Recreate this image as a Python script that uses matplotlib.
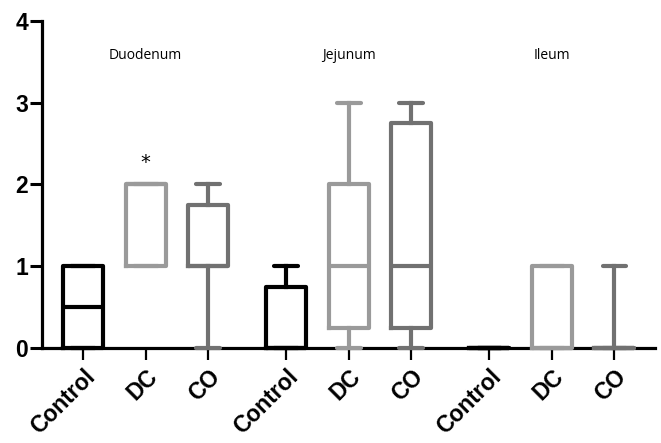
import numpy as np
import matplotlib
matplotlib.use("Agg")
import matplotlib.pyplot as plt

# ------------------------------------------------------
# Data
# ------------------------------------------------------
regions = ["Duodenum", "Jejunum", "Ileum"]
groups = ["Control", "DC", "CO"]

# one entry per box: Duodenum C/DC/CO, Jejunum C/DC/CO, Ileum C/DC/CO
whislo = [0, 1, 0, 0, 0, 0, 0, 0, 0]
q1 = [0, 1, 1, 0, 0.25, 0.25, 0, 0, 0]
med = [0.5, 2, 1, 0, 1, 1, 0, 0, 0]
q3 = [1, 2, 1.75, 0.75, 2, 2.75, 0, 1, 0]
whishi = [1, 2, 2, 1, 3, 3, 0, 1, 1]

star_label = "*"
star_box = 1  # Duodenum DC
star_y = 2.27

group_colors = ["#000000", "#9a9a9a", "#717171"]

# box positions: three per region, with a gap between regions
gap = 1.25
positions = []
for r in range(len(regions)):
    for g in range(len(groups)):
        positions.append(r * (len(groups) - 1 + gap) + g)

stats = []
for i in range(len(positions)):
    stats.append({
        "whislo": whislo[i],
        "q1": q1[i],
        "med": med[i],
        "q3": q3[i],
        "whishi": whishi[i],
        "fliers": [],
    })

# ------------------------------------------------------
# Plot
# ------------------------------------------------------
fig = plt.figure(figsize=(6.61, 4.43), dpi=100)
ax = fig.add_axes([0.0635, 0.2144, 0.9275, 0.7386])

lw = 3.0
bp = ax.bxp(
    stats,
    positions=positions,
    widths=0.64,
    capwidths=0.38,
    showfliers=False,
    manage_ticks=False,
)

for i in range(len(positions)):
    color = group_colors[i % len(groups)]
    artists = [bp["boxes"][i], bp["medians"][i],
               bp["whiskers"][2 * i], bp["whiskers"][2 * i + 1],
               bp["caps"][2 * i], bp["caps"][2 * i + 1]]
    for a in artists:
        a.set_color(color)
        a.set_linewidth(lw)
        a.set_clip_on(False)
        a.set_zorder(4)
    for c in [bp["caps"][2 * i], bp["caps"][2 * i + 1]]:
        c.set_solid_capstyle("round")

# region labels
for r, name in enumerate(regions):
    ax.text(positions[r * len(groups) + 1], 3.58, name,
            ha="center", va="center", fontsize=10, family="Open Sans")

ax.text(positions[star_box], star_y, star_label, ha="center", va="center",
        fontsize=14, family="DejaVu Sans")

ax.set_xlim(-0.66, 9.15)
ax.set_ylim(0, 4)
ax.set_yticks([0, 1, 2, 3, 4])
ax.set_xticks(positions)
ax.set_xticklabels(groups * len(regions), rotation=45, ha="right",
                   rotation_mode="anchor")

for lab in ax.get_xticklabels() + ax.get_yticklabels():
    lab.set_fontfamily("Liberation Sans")
    lab.set_fontweight("bold")
    lab.set_fontsize(16.5)

ax.spines["top"].set_visible(False)
ax.spines["right"].set_visible(False)
ax.spines["left"].set_linewidth(2.3)
ax.spines["bottom"].set_linewidth(2.3)
ax.spines["left"].set_zorder(1)
ax.spines["bottom"].set_zorder(1)

ax.tick_params(axis="y", length=8.5, width=2.2, pad=1.5)
ax.tick_params(axis="x", length=8.5, width=1.6, pad=4)

fig.savefig("out.png", dpi=100)
